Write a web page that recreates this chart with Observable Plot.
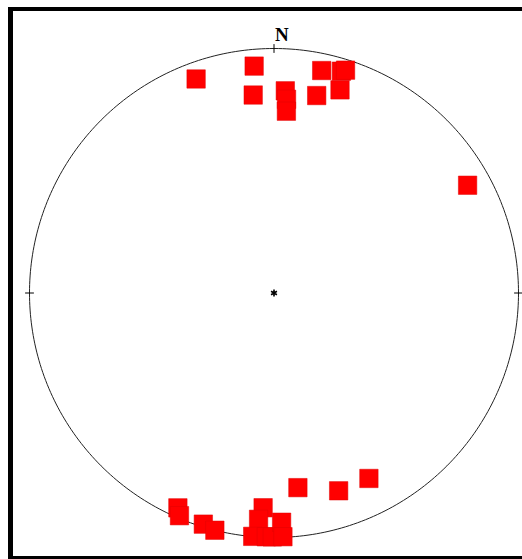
<!DOCTYPE html>
<html>
<head>
<meta charset="utf-8">
<script src="https://cdn.jsdelivr.net/npm/d3@7"></script>
<script src="https://cdn.jsdelivr.net/npm/@observablehq/plot@0.6"></script>
<style>
  html, body { margin: 0; padding: 0; background: #fff; }
  #wrap { position: relative; width: 522px; height: 559px; overflow: hidden; }
  #frame { position: absolute; left: 8px; top: 7px; width: 600px; height: 552px;
           box-sizing: border-box; border-left: 5px solid #000; border-top: 4px solid #000;
           border-bottom: 3px solid #000; pointer-events: none; }
  svg { display: block; }
</style>
</head>
<body>
<div id="wrap"><div id="frame"></div></div>
<script>
// Lineation orientations (lower-hemisphere, equal-area), read from the stereonet
const trend  = [340, 355, 354, 3.2, 3.7, 3.9, 12.2, 12.1, 16.9, 17.8, 18.0, 60.9,
                173.0, 161.9, 152.9, 204.1, 203, 197, 194, 182.9, 183.9, 185, 181.8, 180.4, 178.1, 177.9];
const plunge = [7.6, 7.6, 19.7, 18.3, 21.7, 26.4, 18.5, 7.7, 5.8, 4.8, 13.7, 10.3,
                20.9, 16.0, 15.9, 4.2, 1.2, 1.3, 0, 13.1, 8.0, 0.1, 0.3, 0.3, 6.9, 0.3];
const cardinal = [0, 90, 180, 270];
const northLabel = ["N"];

const rad = Math.PI / 180;
const eqArea = p => Math.SQRT2 * Math.sin((90 - p) / 2 * rad);
const points = trend.map((t, i) => {
  const r = eqArea(plunge[i]);
  return {x: r * Math.sin(t * rad), y: r * Math.cos(t * rad)};
});
const circle = d3.range(0, 361, 1).map(a => ({x: Math.sin(a * rad), y: Math.cos(a * rad)}));
const ticks = cardinal.map(a => ({
  x1: 0.982 * Math.sin(a * rad), y1: 0.982 * Math.cos(a * rad),
  x2: 1.018 * Math.sin(a * rad), y2: 1.018 * Math.cos(a * rad)
}));

const chart = Plot.plot({
  width: 522,
  height: 559,
  marginLeft: 29,
  marginRight: 4,
  marginTop: 48,
  marginBottom: 22,
  x: {domain: [-1, 1], axis: null},
  y: {domain: [-1, 1], axis: null},
  style: {background: "transparent", overflow: "visible"},
  marks: [
    Plot.line(circle, {x: "x", y: "y", stroke: "#222", strokeWidth: 1}),
    Plot.link(ticks, {x1: "x1", y1: "y1", x2: "x2", y2: "y2", stroke: "#000", strokeWidth: 1}),
    Plot.text(northLabel, {x: 0, y: 1, text: d => d, textAnchor: "start", lineAnchor: "bottom",
      dx: 1, dy: -8, fontSize: 19, fontWeight: "bold", fontFamily: "Liberation Serif", fill: "#000"}),
    Plot.dot([0], {x: 0, y: 0, symbol: "asterisk", r: 3.2, stroke: "#000", strokeWidth: 1.6}),
    Plot.dot(points, {x: "x", y: "y", symbol: "square", r: 10.4, fill: "#ff0000", stroke: "#e00000", strokeWidth: 0.5})
  ]
});
document.getElementById("wrap").prepend(chart);
</script>
</body>
</html>
